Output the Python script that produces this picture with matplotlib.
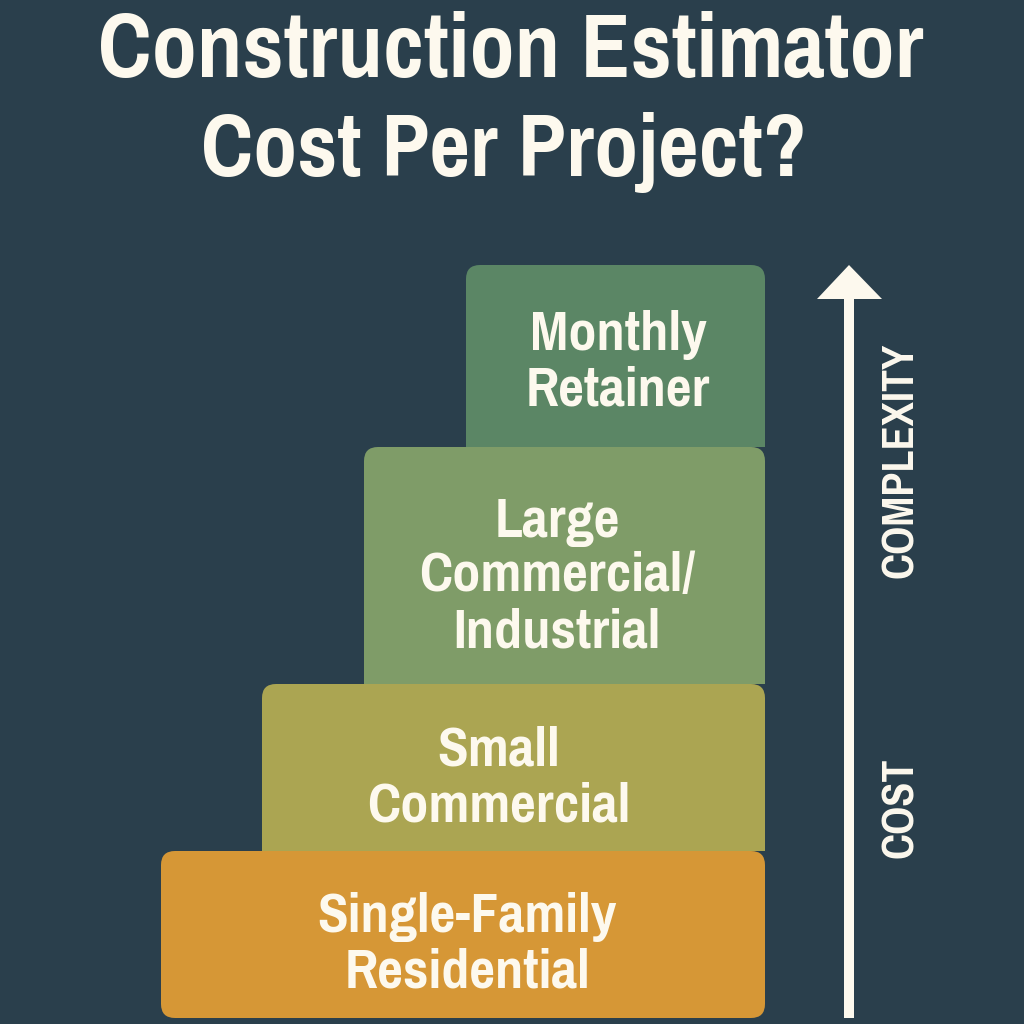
import matplotlib
matplotlib.use("Agg")
import matplotlib.pyplot as plt
from matplotlib import font_manager as fm
from matplotlib.patches import FancyBboxPatch, Polygon

# Tiers bottom to top
labels = [["Single-Family", "Residential"], ["Small", "Commercial"],
          ["Large", "Commercial/", "Industrial"], ["Monthly", "Retainer"]]
lefts = [161, 262, 364, 466]
bottoms = [1018, 851, 684, 447]
tops = [851, 684, 447, 265]
colors = ["#D69736", "#ABA552", "#7F9C68", "#5B8665"]
label_x = [467, 499, 557, 618]
baselines = [[932, 987], [766, 821], [537, 591, 647], [350, 405]]

bg = "#2A3F4C"
cream = "#FDF9EE"
right = 765

installed = set(f.name for f in fm.fontManager.ttflist)
cond = "Pragati Narrow" if "Pragati Narrow" in installed else "Roboto Condensed"
plt.rcParams['font.family'] = [cond, 'Roboto', 'DejaVu Sans']

fig = plt.figure(figsize=(10.24, 10.24), dpi=100, facecolor=bg)
ax = fig.add_axes([0, 0, 1, 1])
ax.set_xlim(0, 1024)
ax.set_ylim(1024, 0)
ax.axis("off")

# title
ax.text(511, 77, "Construction Estimator", fontsize=71, color=cream, ha="center", va="baseline", fontweight="bold")
ax.text(504, 176, "Cost Per Project?", fontsize=69, color=cream, ha="center", va="baseline", fontweight="bold")

# tiers, top first so lower ones overlap
for i in [3, 2, 1, 0]:
    r = 14
    p = FancyBboxPatch((lefts[i] + r, tops[i] + r), right - lefts[i] - 2 * r, bottoms[i] - tops[i] - 2 * r,
                       boxstyle="round,pad=%d,rounding_size=%d" % (r, r), fc=colors[i], ec="none")
    ax.add_patch(p)
    # square off lower corners on upper tiers
    if i > 0:
        ax.fill_between([lefts[i], right], bottoms[i] - 20, bottoms[i], color=colors[i], lw=0)

for i in range(4):
    for line, y in zip(labels[i], baselines[i]):
        ax.text(label_x[i], y, line, fontsize=44, color=cream, ha="center", va="baseline", fontweight="bold")

# arrow
ax.plot([849, 849], [295, 1018], color=cream, lw=7.2, solid_capstyle="butt")
ax.add_patch(Polygon([[849, 265], [882, 299], [817, 299]], closed=True, fc=cream, ec="none"))
ax.text(901, 460, "COMPLEXITY", rotation=90, fontsize=34.5, color=cream, ha="center", va="center", fontweight="bold")
ax.text(901, 808, "COST", rotation=90, fontsize=34.5, color=cream, ha="center", va="center", fontweight="bold")

fig.savefig("out.png", dpi=100, facecolor=bg)
